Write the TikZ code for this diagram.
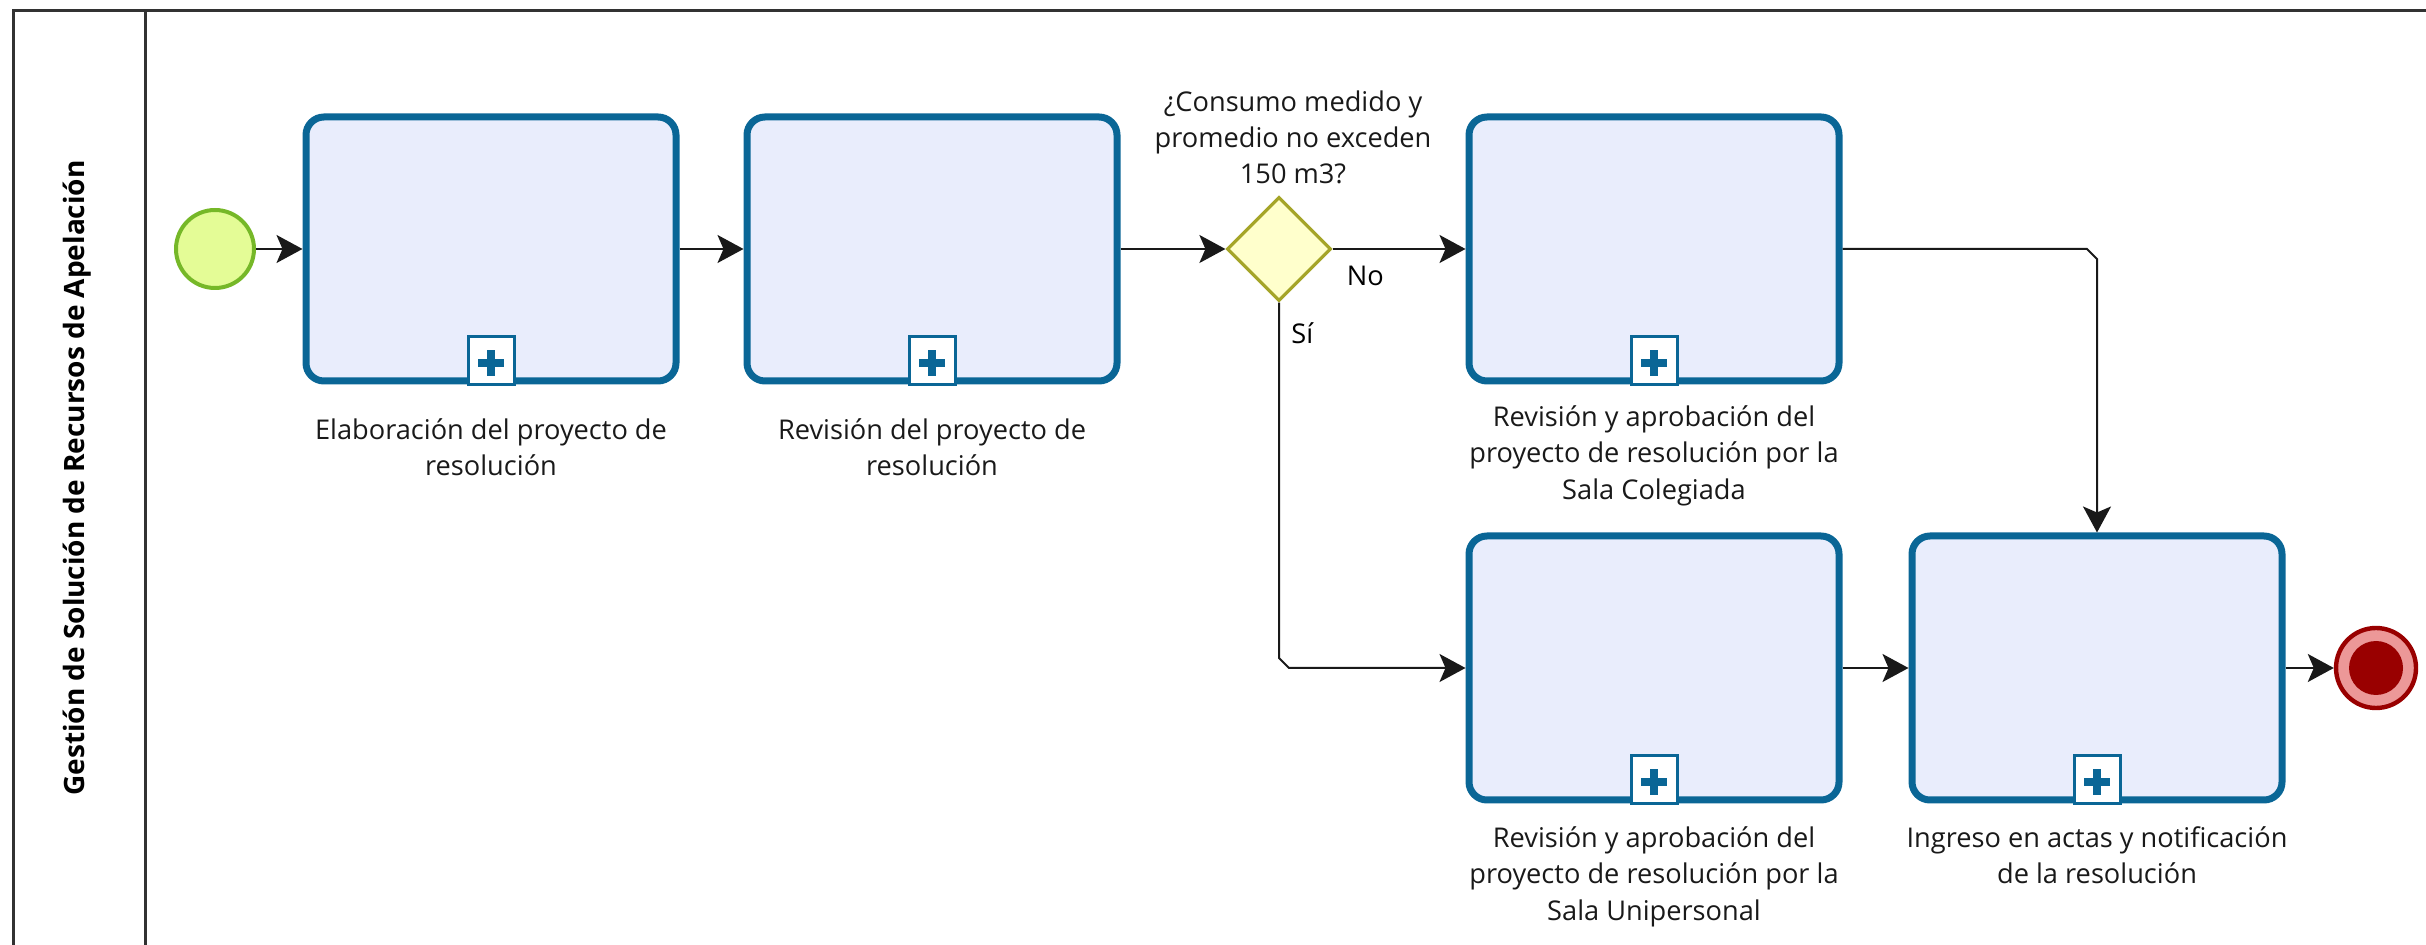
\documentclass[tikz,border=0pt]{standalone}
\usepackage{fontspec}
\setmainfont{Open Sans}
\usetikzlibrary{arrows.meta,shapes.geometric,calc}

\definecolor{taskfill}{RGB}{233,237,252}
\definecolor{taskline}{RGB}{10,102,150}
\definecolor{startfill}{RGB}{228,252,150}
\definecolor{startline}{RGB}{118,184,40}
\definecolor{gwfill}{RGB}{255,255,204}
\definecolor{gwline}{RGB}{165,165,40}
\definecolor{endred}{RGB}{153,0,0}
\definecolor{endpink}{RGB}{236,152,152}
\definecolor{poolline}{RGB}{50,50,50}

\tikzset{
  task/.style={draw=taskline, fill=taskfill, line width=3.5pt, rounded corners=9pt,
    minimum width=185pt, minimum height=132pt, inner sep=0pt},
  startev/.style={circle, draw=startline, fill=startfill, line width=2pt,
    minimum size=39pt, inner sep=0pt},
  endev/.style={circle, draw=endred, fill=endpink, line width=2.2pt,
    minimum size=40pt, inner sep=0pt},
  gateway/.style={diamond, draw=gwline, fill=gwfill, line width=1.6pt,
    minimum width=52pt, minimum height=52pt, inner sep=0pt},
  lbl/.style={align=center, inner sep=0pt, anchor=north, text=black!90,
    font=\fontsize{13.6pt}{18.2pt}\selectfont},
  flow/.style={draw=black!90, line width=1pt,
    -{Stealth[length=13pt, width=14pt, inset=3pt]}},
  pool/.style={draw=poolline, line width=1.5pt},
  submark/.style={draw=taskline, fill=white, line width=1.5pt},
}

\begin{document}
\begin{tikzpicture}[x=0.5pt, y=-0.5pt]
\useasboundingbox (0,0) rectangle (2426,945);

% pool and lane header
\draw[pool] (13,960) -- (13,11) -- (2440,11);
\draw[pool] (145,11) -- (145,960);
\node[rotate=90, font=\bfseries\fontsize{14pt}{16pt}\selectfont] (title) at (77,478)
  {Gestión de Solución de Recursos de Apelación};

% events, tasks and gateway
\node[startev] (start) at (215,249) {};
\node[task] (t1) at (491,249) {};
\node[task] (t2) at (932,249) {};
\node[gateway] (gw) at (1279,249) {};
\node[task] (t3) at (1654,249) {};
\node[task] (t4) at (1654,668) {};
\node[task] (t5) at (2097,668) {};
\node[endev] (end) at (2376,668) {};
\fill[endred] (end.center) circle (13.5pt);

% collapsed sub-process markers
\foreach \t in {t1,t2,t3,t4,t5}{
  \draw[submark] ($(\t.south)+(-23,-48)$) rectangle ($(\t.south)+(23,0)$);
  \fill[taskline] ($(\t.south)+(-13,-25)$) rectangle ($(\t.south)+(13,-17)$);
  \fill[taskline] ($(\t.south)+(-4,-34)$) rectangle ($(\t.south)+(4,-8)$);
}

% labels
\node[lbl] (l1) at (491,418) {Elaboración del proyecto de\\resolución};
\node[lbl] (l2) at (932,418) {Revisión del proyecto de\\resolución};
\node[lbl] (l3) at (1654,405) {Revisión y aprobación del\\proyecto de resolución por la\\Sala Colegiada};
\node[lbl] (l4) at (1654,826) {Revisión y aprobación del\\proyecto de resolución por la\\Sala Unipersonal};
\node[lbl] (l5) at (2097,826) {Ingreso en actas y notificación\\de la resolución};
\node[lbl] (lg) at (1293,90) {¿Consumo medido y\\promedio no exceden\\150 m3?};

% sequence flows
\draw[flow] (start) -- (t1);
\draw[flow] (t1) -- (t2);
\draw[flow] (t2) -- (gw);
\draw[flow] (gw.east) -- node[pos=0.1, anchor=north west, inner sep=0pt, yshift=-8pt,
  font=\fontsize{13.6pt}{18pt}\selectfont] (no) {No} (t3.west);
\coordinate (c1) at (gw.south |- t4.west);
\draw[flow] (gw.south) -- ($(c1)+(0,-10)$) -- ($(c1)+(10,0)$) -- (t4.west);
\node[anchor=north west, inner sep=0pt, font=\fontsize{13.6pt}{18pt}\selectfont] (si) at (1291,322) {Sí};
\coordinate (c2) at (t5.north |- t3.east);
\draw[flow] (t3.east) -- ($(c2)+(-10,0)$) -- ($(c2)+(0,10)$) -- (t5.north);
\draw[flow] (t4) -- (t5);
\draw[flow] (t5) -- (end);
\end{tikzpicture}
\end{document}
